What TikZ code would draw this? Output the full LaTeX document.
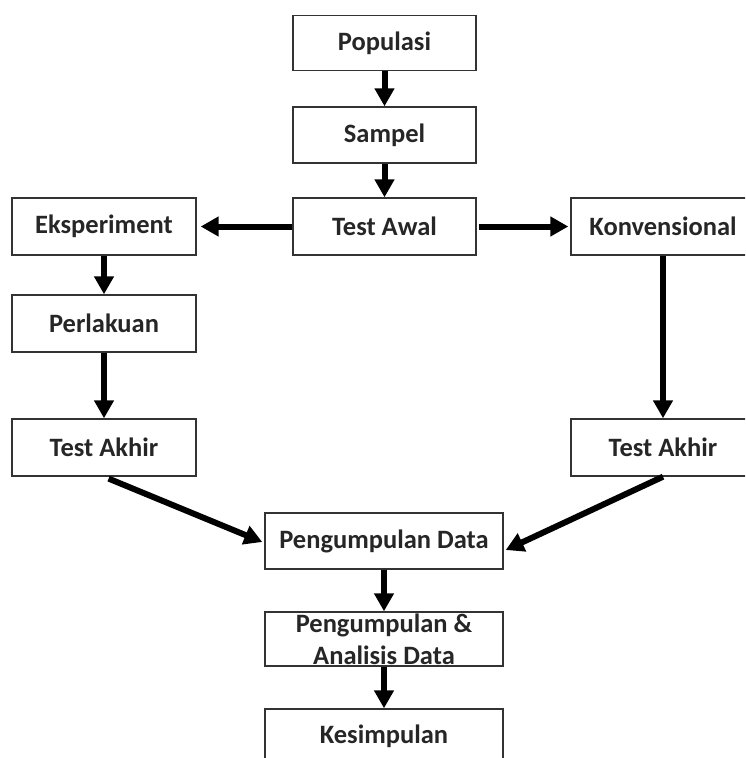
\documentclass[tikz,border=0pt]{standalone}
\usepackage{fontspec}
\setmainfont{Carlito}
\usetikzlibrary{arrows.meta,calc}
\tikzset{
  box/.style={draw=black!80, line width=1.4pt, fill=white, rectangle, inner sep=0pt,
    font=\bfseries\fontsize{26.5}{30}\selectfont, text=black!85, align=center},
  cbox/.style={box, minimum width=183pt},
  sbox/.style={box, minimum width=184pt},
  wbox/.style={box, minimum width=238pt},
  arr/.style={line width=6pt, -{Triangle[length=18pt,width=19pt]}},
}
\begin{document}
\begin{tikzpicture}[x=1pt,y=-1pt]
\useasboundingbox (0,0) rectangle (745,758);
\clip (0,0) rectangle (745,758);
\fill[white] (0,0) rectangle (745,758);
\node[cbox, minimum height=55pt] (pop) at (384.5,43) {Populasi};
\node[cbox, minimum height=56pt] (sam) at (384.5,135) {Sampel};
\node[cbox, minimum height=57pt] (awal) at (384.5,226.5) {Test Awal};
\node[sbox, minimum height=57pt] (eks) at (104,226.5) {Eksperiment};
\node[sbox, minimum height=57pt] (kon) at (663,226.5) {Konvensional};
\node[sbox, minimum height=57pt] (per) at (104,323.5) {Perlakuan};
\node[sbox, minimum height=57pt] (tal) at (104,447.5) {Test Akhir};
\node[sbox, minimum height=57pt] (tar) at (663,447.5) {Test Akhir};
\node[wbox, minimum height=56pt] (pd) at (384,541) {Pengumpulan Data};
\node[wbox, minimum height=54pt] (pa) at (384,639) {Pengumpulan \&\\[2pt]Analisis Data};
\node[wbox, minimum height=55pt] (kes) at (384,736.5) {Kesimpulan};
\coordinate (pdl) at ($(pd.west)+(-2,1)$);
\coordinate (pdr) at ($(pd.east)+(2,9)$);
\draw[arr] (pop) -- (sam);
\draw[arr] (sam) -- (awal);
\draw[arr, shorten >=4pt] (awal) -- (eks);
\draw[arr, shorten <=2pt, shorten >=2pt] (awal) -- (kon);
\draw[arr] (eks) -- (per);
\draw[arr] (per) -- (tal);
\draw[arr] (kon) -- (tar);
\draw[arr, shorten <=5pt] (tal.south) -- (pdl);
\draw[arr] (tar.south) -- (pdr);
\draw[arr] (pd) -- (pa);
\draw[arr] (pa) -- (kes);
\end{tikzpicture}
\end{document}
